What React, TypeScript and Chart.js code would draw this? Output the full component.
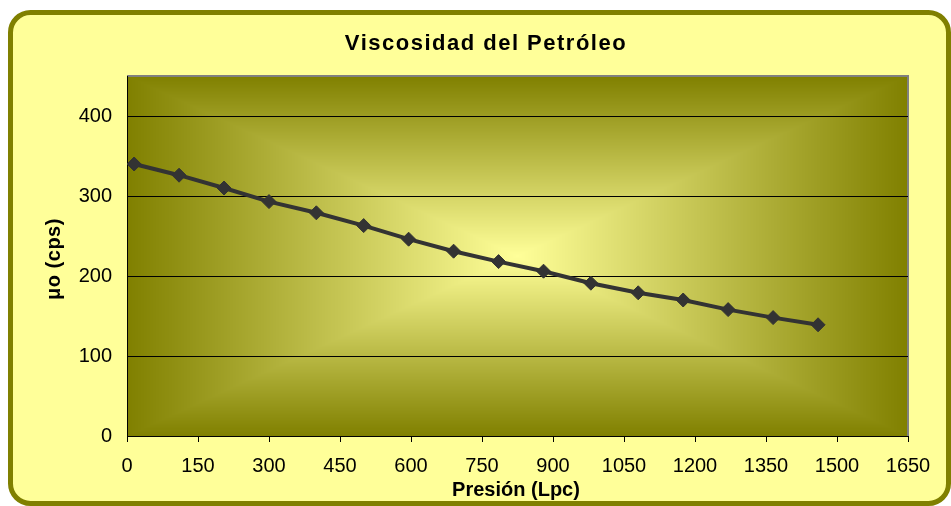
import React, { useEffect, useRef } from "react";
import { Chart, registerables } from "chart.js";

Chart.register(...registerables);

// ---- data ----
const pressure = [15, 110, 205, 300, 400, 500, 595, 690, 785, 880, 980, 1080, 1175, 1270, 1365, 1460];
const viscosity = [340, 326, 310, 293, 279, 263, 246, 231, 218, 206, 191, 179, 170, 158, 148, 139];

const xMin = 0;
const xMax = 1650;
const xStep = 150;
const yMin = 0;
const yMax = 450;
const yStep = 100;
const yLastLabel = 400;

const TITLE = "Viscosidad del Petróleo";
const X_TITLE = "Presión (Lpc)";
const Y_TITLE = "μo (cps)";

const FONT = '"Liberation Sans", Arial, Helvetica, sans-serif';
const OLIVE = "#808000";
const PALE = "#FFFF99";
const LINE = "#333333";

const EDGE_RGB = [128, 128, 0];
const CENTER_RGB = [255, 255, 153];

let gradCache: { key: string; canvas: HTMLCanvasElement } | null = null;

function plotGradient(w: number, h: number) {
  const key = `${w}x${h}`;
  if (gradCache && gradCache.key === key) return gradCache.canvas;
  const c = document.createElement("canvas");
  c.width = w;
  c.height = h;
  const g = c.getContext("2d")!;
  const img = g.createImageData(w, h);
  const hw = w / 2, hh = h / 2;
  for (let y = 0; y < h; y++) {
    const dy = Math.abs(y + 0.5 - hh) / hh;
    for (let x = 0; x < w; x++) {
      const dx = Math.abs(x + 0.5 - hw) / hw;
      const d = Math.min(1, Math.max(dx, dy));
      const i = (y * w + x) * 4;
      img.data[i] = CENTER_RGB[0] + (EDGE_RGB[0] - CENTER_RGB[0]) * d;
      img.data[i + 1] = CENTER_RGB[1] + (EDGE_RGB[1] - CENTER_RGB[1]) * d;
      img.data[i + 2] = CENTER_RGB[2] + (EDGE_RGB[2] - CENTER_RGB[2]) * d;
      img.data[i + 3] = 255;
    }
  }
  g.putImageData(img, 0, 0);
  gradCache = { key, canvas: c };
  return c;
}

const decor = {
  id: "decor",
  beforeDraw(chart: any) {
    const { ctx, chartArea: a } = chart;
    ctx.save();
    // outer rounded box
    ctx.beginPath();
    ctx.roundRect(10.5, 12.5, 938, 491, 20);
    ctx.fillStyle = PALE;
    ctx.fill();
    ctx.lineWidth = 5;
    ctx.strokeStyle = OLIVE;
    ctx.stroke();

    // rectangular "from center" gradient in plot area
    const L = Math.round(a.left), R = Math.round(a.right), T = Math.round(a.top), B = Math.round(a.bottom);
    ctx.drawImage(plotGradient(R - L, B - T), L, T);

    // gray plot border (top & right)
    ctx.strokeStyle = "#808080";
    ctx.lineWidth = 2;
    ctx.beginPath();
    ctx.moveTo(L, T);
    ctx.lineTo(R, T);
    ctx.lineTo(R, B);
    ctx.stroke();

    // texts
    ctx.fillStyle = "#000";
    ctx.textBaseline = "alphabetic";
    ctx.textAlign = "center";
    ctx.font = `bold 22px ${FONT}`;
    (ctx as any).letterSpacing = "1.5px";
    ctx.fillText(TITLE, 486, 50);
    (ctx as any).letterSpacing = "0px";

    ctx.font = `bold 20px ${FONT}`;
    ctx.fillText(X_TITLE, 516, 496);

    ctx.save();
    ctx.translate(59.5, 259);
    ctx.rotate(-Math.PI / 2);
    (ctx as any).letterSpacing = "0.5px";
    ctx.fillText(Y_TITLE, 0, 0);
    ctx.restore();

    ctx.restore();
  },
};

export default function App() {
  const ref = useRef<HTMLCanvasElement | null>(null);

  useEffect(() => {
    if (!ref.current) return;
    const chart = new Chart(ref.current, {
      type: "line",
      data: {
        datasets: [
          {
            data: pressure.map((p, i) => ({ x: p, y: viscosity[i] })),
            borderColor: LINE,
            backgroundColor: LINE,
            borderWidth: 4,
            pointStyle: "rectRot",
            pointRadius: 7,
            pointBorderWidth: 1,
            pointBackgroundColor: LINE,
            pointBorderColor: LINE,
            tension: 0,
            fill: false,
          },
        ],
      },
      options: {
        animation: false,
        responsive: false,
        layout: { padding: { left: 0, top: 76, right: 43, bottom: 0 } },
        plugins: {
          legend: { display: false },
          title: { display: false },
          tooltip: { enabled: false },
        },
        scales: {
          x: {
            type: "linear",
            min: xMin,
            max: xMax,
            ticks: {
              stepSize: xStep,
              color: "#000",
              font: { family: FONT, size: 20 },
              padding: 12,
              maxRotation: 0,
              autoSkip: false,
              callback: (v: any) => String(v),
            },
            grid: { drawOnChartArea: false, drawTicks: true, tickLength: 6, color: "#000", lineWidth: 1 },
            border: { color: "#000", width: 1 },
            afterFit: (s: any) => {
              s.height = 70;
            },
          },
          y: {
            type: "linear",
            min: yMin,
            max: yMax,
            ticks: {
              stepSize: yStep,
              color: "#000",
              font: { family: FONT, size: 20 },
              padding: 15,
              callback: (v: any) => String(v),
            },
            grid: { color: "#000", lineWidth: 1, drawTicks: false },
            border: { color: "#000", width: 1 },
            afterBuildTicks: (s: any) => {
              s.ticks = s.ticks.filter((t: any) => t.value <= yLastLabel);
            },
            afterFit: (s: any) => {
              s.width = 127;
            },
          },
        },
      } as any,
      plugins: [decor],
    });
    return () => chart.destroy();
  }, []);

  return (
    <div style={{ position: "fixed", left: 0, top: 0, width: 951, height: 506 }}>
      <canvas ref={ref} width={951} height={506} style={{ display: "block", width: 951, height: 506 }} />
    </div>
  );
}
